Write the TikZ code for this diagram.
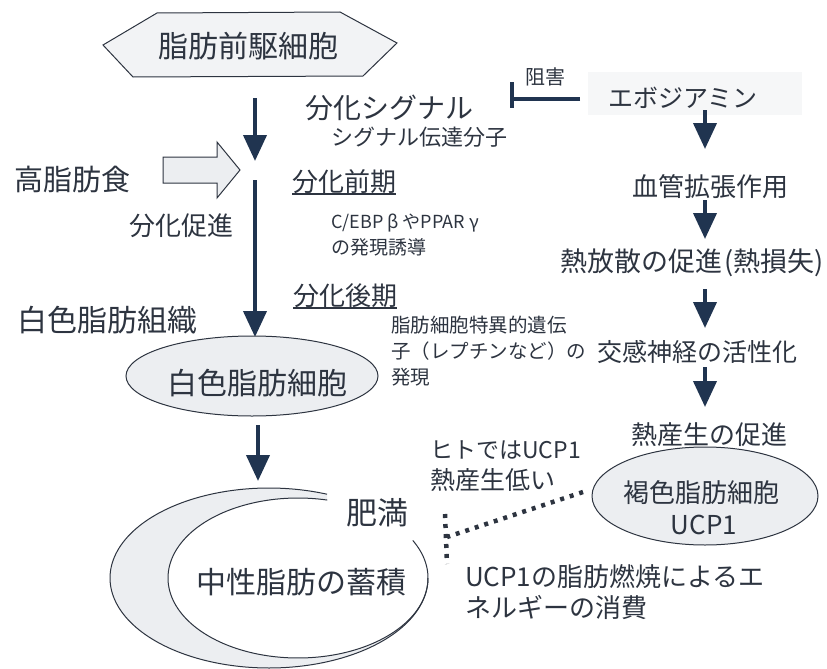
\documentclass[tikz,border=0pt]{standalone}
\usepackage{fontspec}
\setmainfont{Noto Sans CJK JP}
\usetikzlibrary{arrows.meta,calc,shapes.geometric}
\definecolor{txt}{RGB}{45,52,64}
\definecolor{nav}{RGB}{32,52,80}
\definecolor{lfill}{RGB}{236,238,241}
\newcommand{\fsz}[1]{\fontsize{#1}{#1}\selectfont}
\begin{document}
\begin{tikzpicture}[x=1pt,y=-1pt,
  lbl/.style={inner sep=0pt,text=txt},
  darr/.style={nav,line width=4pt,-{Triangle[length=26pt,width=23pt]}},
  outl/.style={draw=txt,line width=1pt},
  dotl/.style={txt,line width=4.5pt,dash pattern=on 4pt off 6pt},
  ulin/.style={txt,line width=1.2pt}]
\useasboundingbox (0,0) rectangle (827,669);

% hexagon
\filldraw[outl,fill=lfill!70] (103,45) -- (157,13) -- (340,12) -- (397,43) -- (363,76) -- (133,77) -- cycle;
\node[lbl,font=\fsz{30}] (prec) at (248,46) {脂肪前駆細胞};

% left column
\coordinate (a1s) at (255,98);
\coordinate (a1e) at (255,161);
\draw[darr] (a1s) -- (a1e);
\coordinate (a2s) at (255,180);
\coordinate (a2e) at (255,337);
\draw[darr] (a2s) -- (a2e);

\node[lbl,font=\fsz{29}] (hfd) at (72,179) {高脂肪食};
\filldraw[outl,fill=lfill] (163,157) -- (217,157) -- (217,142) -- (240,170) -- (217,198) -- (217,183) -- (163,183) -- cycle;
\node[lbl,font=\fsz{26}] (prom) at (181,226) {分化促進};

\node[lbl,font=\fsz{28}] (sig) at (389,108) {分化シグナル};
\node[lbl,font=\fsz{22}] (sigm) at (419,137) {シグナル伝達分子};

\node[lbl,font=\fsz{26},anchor=west] (early) at (292,182) {分化前期};
\draw[ulin] ($(early.west)+(0,12)$) -- ($(early.east)+(0,12)$);
\node[lbl,font=\fsz{18},anchor=west] (cebp) at (331,223) {C/EBP β やPPAR γ};
\node[lbl,font=\fsz{19},anchor=west] (cebp2) at (331,247) {の発現誘導};

\node[lbl,font=\fsz{26},anchor=west] (late) at (293,296) {分化後期};
\draw[ulin] ($(late.west)+(0,12)$) -- ($(late.east)+(0,12)$);
\node[lbl,font=\fsz{19.5},anchor=west] (lep1) at (391,325) {脂肪細胞特異的遺伝};
\node[lbl,font=\fsz{19.5},anchor=west] (lep2) at (391,351) {子（レプチンなど）の};
\node[lbl,font=\fsz{19.5},anchor=west] (lep3) at (391,377) {発現};

\node[lbl,font=\fsz{30}] (wat) at (107,320) {白色脂肪組織};
\node[ellipse,outl,fill=lfill,inner sep=0pt,minimum width=252pt,minimum height=80pt] (wfat) at (252,376) {};
\node[lbl,font=\fsz{30}] (wfatt) at (257,383) {白色脂肪細胞};

\coordinate (a3s) at (258,425);
\coordinate (a3e) at (258,481);
\draw[darr] (a3s) -- (a3e);

% crescent
\fill[lfill] plot[domain=-68.6:-360,samples=150] ({269+159*cos(\x)},{578+90*sin(\x)})
  -- plot[domain=0:283,samples=150] ({298+130*cos(\x)},{578+80*sin(\x)}) -- cycle;
\draw[txt,line width=1pt] plot[domain=-68.6:-360,samples=150] ({269+159*cos(\x)},{578+90*sin(\x)});
\draw[txt,line width=1pt] plot[domain=-77:-388,samples=150] ({298+130*cos(\x)},{578+80*sin(\x)});
\node[lbl,font=\fsz{31}] (obes) at (377,513) {肥満};
\node[lbl,font=\fsz{30}] (tg) at (301,582) {中性脂肪の蓄積};

% right column
\fill[lfill!50] (588,72) rectangle (802,115);
\node[lbl,font=\fsz{25}] (evo) at (683,98) {エボジアミン};
\coordinate (ihs) at (580,99);
\coordinate (ihe) at (512,99);
\draw[nav,line width=4pt] (ihs) -- (ihe);
\draw[nav,line width=4pt] (512,82) -- (512,108);
\node[lbl,font=\fsz{20}] (inh) at (545,77) {阻害};

\node[lbl,font=\fsz{26}] (vaso) at (710,187) {血管拡張作用};
\node[lbl,font=\fsz{27}] (heat) at (692,263) {熱放散の促進\kern2pt(熱損失)};
\node[lbl,font=\fsz{25}] (symp) at (697,352) {交感神経の活性化};
\node[lbl,font=\fsz{26}] (thermo) at (709,435) {熱産生の促進};

\coordinate (r1s) at (705,110); \coordinate (r1e) at (705,149);
\coordinate (r2s) at (705,200); \coordinate (r2e) at (705,239);
\coordinate (r3s) at (705,289); \coordinate (r3e) at (705,328);
\coordinate (r4s) at (705,367); \coordinate (r4e) at (705,407);
\draw[darr] (r1s) -- (r1e);
\draw[darr] (r2s) -- (r2e);
\draw[darr] (r3s) -- (r3e);
\draw[darr] (r4s) -- (r4e);

\node[ellipse,outl,fill=lfill,inner sep=0pt,minimum width=226pt,minimum height=98pt] (bat) at (705,496) {};
\node[lbl,font=\fsz{26}] (batt) at (701,493) {褐色脂肪細胞};
\node[lbl,font=\fsz{26}] (ucp) at (704,525) {UCP1};

\node[lbl,font=\fsz{23},anchor=west] (hum1) at (430,450) {ヒトではUCP1};
\node[lbl,font=\fsz{25},anchor=west] (hum2) at (430,480) {熱産生低い};

\coordinate (d1) at (583,492);
\coordinate (d2) at (447,537);
\coordinate (d3) at (445,514);
\coordinate (d4) at (447,564);
\draw[dotl] (d1) -- (d2);
\draw[dotl] (d3) -- (d4);

\node[lbl,font=\fsz{26},anchor=west] (burn1) at (465,577) {UCP1の脂肪燃焼によるエ};
\node[lbl,font=\fsz{26},anchor=west] (burn2) at (465,607) {ネルギーの消費};
\end{tikzpicture}
\end{document}
